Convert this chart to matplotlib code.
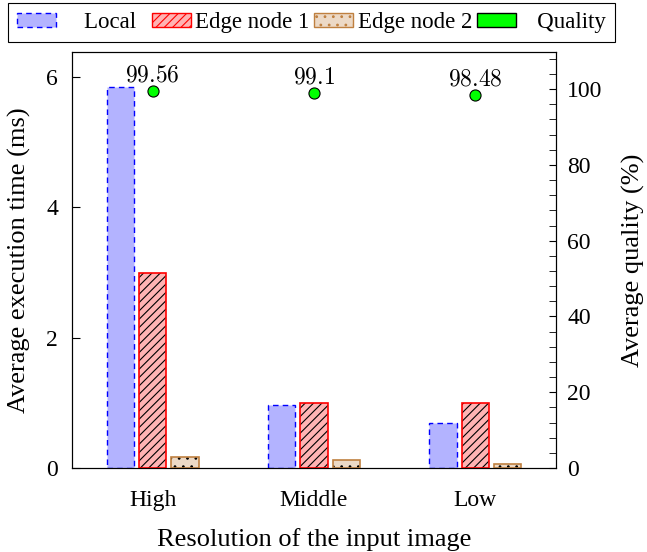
import numpy as np
import matplotlib
matplotlib.use("Agg")
import matplotlib.pyplot as plt
from matplotlib.patches import Patch
from matplotlib.ticker import MultipleLocator

plt.rcParams['font.family'] = ['Liberation Serif', 'DejaVu Serif']
plt.rcParams['mathtext.fontset'] = 'cm'
plt.rcParams['hatch.linewidth'] = 0.8

# data
resolutions = ["High", "Middle", "Low"]
local_ms = [5.85, 0.96, 0.69]
edge1_ms = [2.99, 0.99, 0.99]
edge2_ms = [0.17, 0.12, 0.06]
quality = [99.56, 99.1, 98.48]

blue_fill = "#b3b3ff"
red_fill = "#ffb3b3"
brown_fill = "#ecd9c6"
brown_edge = "#bf8040"

fig = plt.figure(figsize=(6.47, 5.52), dpi=100)
ax = fig.add_axes([72 / 647, 1 - 468 / 552, (556 - 72) / 647, (468 - 52) / 552])
ax2 = ax.twinx()

x = np.arange(len(resolutions))
w = 0.17
off = 0.2

# Local
ax.bar(x - off, local_ms, w, color=blue_fill, edgecolor="blue", linestyle=(0, (4, 3)), linewidth=1.0, zorder=2)
# Edge node 1: black hatch, red border
ax.bar(x, edge1_ms, w, color=red_fill, edgecolor="black", hatch="////", linewidth=0, zorder=2)
ax.bar(x, edge1_ms, w, fill=False, edgecolor="red", linewidth=1.2, zorder=3)
# Edge node 2: dots
ax.bar(x + off, edge2_ms, w, color=brown_fill, edgecolor="black", hatch="..", linewidth=0, zorder=2)
ax.bar(x + off, edge2_ms, w, fill=False, edgecolor=brown_edge, linewidth=1.2, zorder=3)

ax2.plot(x, quality, "o", color="#00ff00", markeredgecolor="black", markeredgewidth=0.8, markersize=8, zorder=4)
for xi, q in zip(x, quality):
    ax2.annotate(f"${q:g}$", (xi, q), xytext=(0, 3), textcoords="offset points",
                 ha="center", va="bottom", fontsize=17)

ax.set_xlim(-0.5, 2.5)
ax.set_ylim(0, 6.38)
ax2.set_ylim(0, 109.8)
ax.set_xticks(x)
ax.set_xticklabels(resolutions)
ax.tick_params(axis="x", length=0, pad=16, labelsize=17)
ax.set_yticks([0, 2, 4, 6])
ax.tick_params(axis="y", direction="in", length=6, labelsize=17, pad=10)
ax2.set_yticks([0, 20, 40, 60, 80, 100])
ax2.yaxis.set_minor_locator(MultipleLocator(4))
ax2.tick_params(axis="y", which="both", direction="in", length=5, labelsize=17, pad=8)
for a in (ax, ax2):
    for s in a.spines.values():
        s.set_linewidth(0.8)

ax.set_xlabel("Resolution of the input image", fontsize=19, labelpad=12)
ax.set_ylabel("Average execution time (ms)", fontsize=19, labelpad=11)
ax2.set_ylabel("Average quality (%)", fontsize=19, labelpad=14)

handles = [
    Patch(facecolor=blue_fill, edgecolor="blue", linestyle=(0, (4, 3)), linewidth=1.0),
    Patch(facecolor=red_fill, edgecolor="red", hatch="////", linewidth=1.0),
    Patch(facecolor=brown_fill, edgecolor=brown_edge, hatch="..", linewidth=1.0),
    Patch(facecolor="#00ff00", edgecolor="black", linewidth=1.0),
]
labels = ["    Local  ", "Edge node 1", "Edge node 2", "   Quality"]
leg = fig.legend(handles, labels, loc="upper left", bbox_to_anchor=(8 / 647, 1 - 3 / 552),
                 ncol=4, fancybox=False, edgecolor="black", framealpha=1, fontsize=16.5,
                 handlelength=1.7, handleheight=0.6, handletextpad=0.2, columnspacing=0.2,
                 borderpad=0.4, borderaxespad=0)
leg.get_frame().set_linewidth(0.8)

fig.savefig("out.png", dpi=100)
